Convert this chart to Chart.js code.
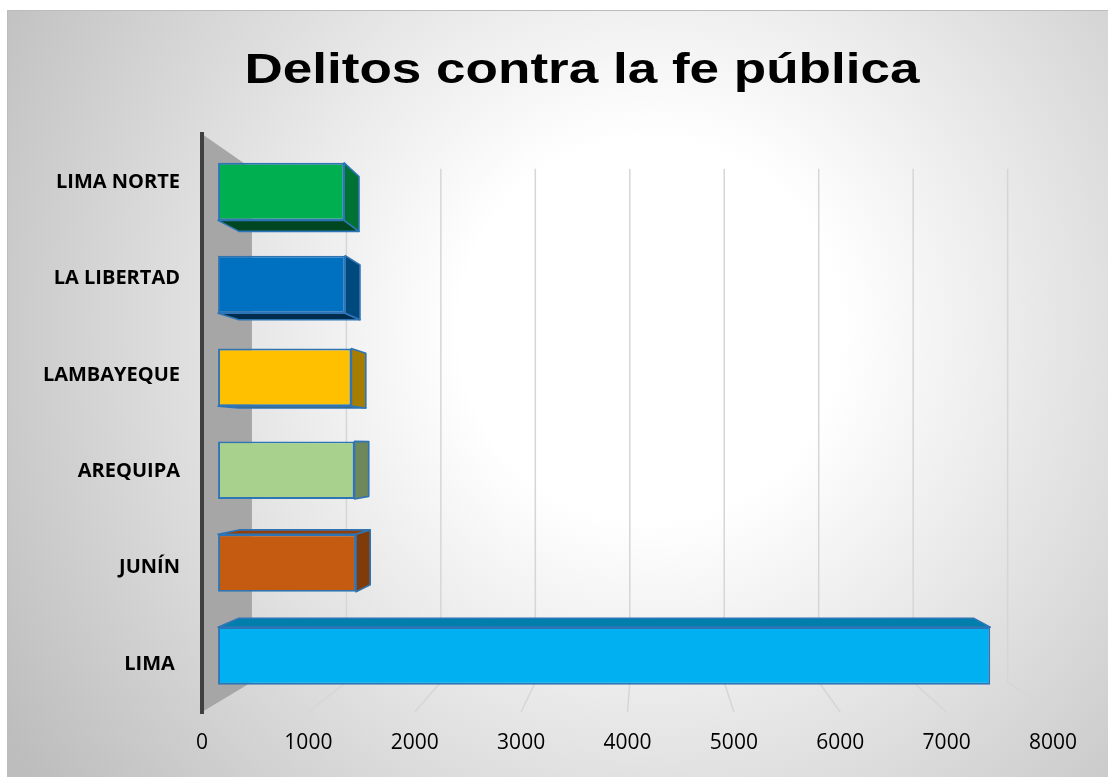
<!DOCTYPE html>
<html lang="es">
<head>
<meta charset="utf-8">
<title>Delitos contra la fe pública</title>
<script src="https://cdn.jsdelivr.net/npm/chart.js@4.4.1/dist/chart.umd.min.js"></script>
<style>
    html, body { margin: 0; padding: 0; background: #fff; }
    canvas { display: block; }
</style>
</head>
<body>
<canvas id="delitosChart" width="1108" height="777"></canvas>
<script>
const regiones = ['LIMA NORTE', 'LA LIBERTAD', 'LAMBAYEQUE', 'AREQUIPA', 'JUNÍN', 'LIMA '];
const casos = [1230, 1240, 1300, 1330, 1345, 7530];
const colores = ['#00B050', '#0070C0', '#FFC000', '#A9D18E', '#C55A11', '#00B0F0'];
const marcasX = [0, 1000, 2000, 3000, 4000, 5000, 6000, 7000, 8000];
const titulo = 'Delitos contra la fe pública';

// Profundidades de la perspectiva (1 = plano frontal de los ejes)
const PROF_PARED = 0.888;
const PROF_FRENTE = 0.964;
const PROF_FONDO = 0.917;
const BORDE = '#2E75B6';

// Punto de fuga, relativo al área del gráfico
function puntoFuga(chart) {
    const a = chart.chartArea;
    return {
        x: a.left + 0.524 * (a.right - a.left),
        y: a.top + 0.5375 * (a.bottom - a.top)
    };
}

function proyectar(v, x, y, s) {
    return [v.x + s * (x - v.x), v.y + s * (y - v.y)];
}

function oscurecer(hex, f) {
    const n = parseInt(hex.slice(1), 16);
    const r = Math.round(((n >> 16) & 255) * f);
    const g = Math.round(((n >> 8) & 255) * f);
    const b = Math.round((n & 255) * f);
    return `rgb(${r}, ${g}, ${b})`;
}

function cara(ctx, pts, relleno) {
    ctx.beginPath();
    ctx.moveTo(pts[0][0], pts[0][1]);
    for (let i = 1; i < pts.length; i++) ctx.lineTo(pts[i][0], pts[i][1]);
    ctx.closePath();
    ctx.fillStyle = relleno;
    ctx.fill();
    ctx.lineWidth = 1.6;
    ctx.lineJoin = 'round';
    ctx.strokeStyle = BORDE;
    ctx.stroke();
}

const escena3d = {
    id: 'escena3d',
    beforeDraw(chart) {
        const ctx = chart.ctx;
        ctx.save();
        ctx.fillStyle = '#ffffff';
        ctx.fillRect(0, 0, chart.width, chart.height);
        // fondo con degradado radial
        const grad = ctx.createRadialGradient(650, 330, 0, 650, 330, 760);
        grad.addColorStop(0, '#ffffff');
        grad.addColorStop(0.25, '#ffffff');
        grad.addColorStop(1, '#bdbdbd');
        ctx.fillStyle = grad;
        ctx.fillRect(7, 10, chart.width, chart.height);
        ctx.strokeStyle = '#bcbcbc';
        ctx.lineWidth = 1;
        ctx.strokeRect(7.5, 10.5, chart.width, chart.height);
        ctx.restore();
    },
    beforeDatasetsDraw(chart) {
        const ctx = chart.ctx;
        const a = chart.chartArea;
        const v = puntoFuga(chart);
        const xs = chart.scales.x;

        ctx.save();
        // líneas de división: pared del fondo y suelo
        ctx.strokeStyle = '#d6d6d6';
        ctx.lineWidth = 1.5;
        xs.ticks.forEach(t => {
            if (t.value === 0) return;
            const x = xs.getPixelForValue(t.value);
            const arriba = proyectar(v, x, a.top, PROF_PARED);
            const abajo = proyectar(v, x, a.bottom, PROF_PARED);
            ctx.beginPath();
            ctx.moveTo(arriba[0], arriba[1]);
            ctx.lineTo(abajo[0], abajo[1]);
            ctx.lineTo(x, a.bottom);
            ctx.stroke();
        });

        // pared lateral izquierda
        const p1 = proyectar(v, a.left, a.top, PROF_PARED);
        const p2 = proyectar(v, a.left, a.bottom, PROF_PARED);
        ctx.beginPath();
        ctx.moveTo(a.left, a.top);
        ctx.lineTo(p1[0], p1[1]);
        ctx.lineTo(p2[0], p2[1]);
        ctx.lineTo(a.left, a.bottom);
        ctx.closePath();
        ctx.fillStyle = '#a6a6a6';
        ctx.fill();
        ctx.strokeStyle = '#404040';
        ctx.lineWidth = 4;
        ctx.beginPath();
        ctx.moveTo(a.left, a.top - 2);
        ctx.lineTo(a.left, a.bottom + 2);
        ctx.stroke();

        // caras ocultas de cada barra: superior/inferior y lateral derecha
        const meta = chart.getDatasetMeta(0);
        meta.data.forEach((barra, i) => {
            const { x, y, base, height } = barra.getProps(['x', 'y', 'base', 'height'], true);
            const y0 = y - height / 2;
            const y1 = y + height / 2;
            const c = colores[i];
            if (y0 > v.y) {
                cara(ctx, [
                    proyectar(v, base, y0, PROF_FRENTE), proyectar(v, x, y0, PROF_FRENTE),
                    proyectar(v, x, y0, PROF_FONDO), proyectar(v, base, y0, PROF_FONDO)
                ], oscurecer(c, 0.72));
            }
            if (y1 < v.y) {
                cara(ctx, [
                    proyectar(v, base, y1, PROF_FRENTE), proyectar(v, x, y1, PROF_FRENTE),
                    proyectar(v, x, y1, PROF_FONDO), proyectar(v, base, y1, PROF_FONDO)
                ], oscurecer(c, 0.4));
            }
            if (x < v.x) {
                cara(ctx, [
                    proyectar(v, x, y0, PROF_FRENTE), proyectar(v, x, y1, PROF_FRENTE),
                    proyectar(v, x, y1, PROF_FONDO), proyectar(v, x, y0, PROF_FONDO)
                ], oscurecer(c, 0.65));
            }
        });
        ctx.restore();

        // la cara frontal la dibuja Chart.js, llevada al plano de las barras
        ctx.save();
        ctx.translate(v.x, v.y);
        ctx.scale(PROF_FRENTE, PROF_FRENTE);
        ctx.translate(-v.x, -v.y);
    },
    afterDatasetsDraw(chart) {
        chart.ctx.restore();
    },
    afterDraw(chart) {
        const ctx = chart.ctx;
        ctx.save();
        ctx.font = 'bold 43px "Liberation Sans", Arial, sans-serif';
        const ancho = ctx.measureText(titulo).width;
        ctx.translate(582, 83);
        ctx.scale(675 / ancho, 1);
        ctx.textAlign = 'center';
        ctx.textBaseline = 'alphabetic';
        ctx.fillStyle = '#000000';
        ctx.fillText(titulo, 0, 0);
        ctx.restore();
    }
};

new Chart(document.getElementById('delitosChart'), {
    type: 'bar',
    data: {
        labels: regiones,
        datasets: [{
            data: casos,
            backgroundColor: colores,
            borderColor: BORDE,
            borderWidth: 2,
            borderSkipped: false,
            barPercentage: 0.62,
            categoryPercentage: 1,
            clip: false
        }]
    },
    options: {
        indexAxis: 'y',
        responsive: false,
        animation: false,
        layout: {
            padding: { left: 7, top: 134, right: 55, bottom: 0 }
        },
        plugins: {
            legend: { display: false },
            tooltip: { enabled: false },
            title: { display: false }
        },
        scales: {
            x: {
                min: marcasX[0],
                max: marcasX[marcasX.length - 1],
                grid: { display: false, drawTicks: false },
                border: { display: false },
                ticks: {
                    stepSize: marcasX[1] - marcasX[0],
                    padding: 18,
                    color: '#000000',
                    font: { family: '"Open Sans", sans-serif', size: 21 },
                    callback: valor => String(valor)
                },
                afterFit(scale) { scale.height = 65; }
            },
            y: {
                grid: { display: false, drawTicks: false },
                border: { display: false },
                ticks: {
                    padding: 22,
                    color: '#000000',
                    font: { family: '"Open Sans", sans-serif', size: 20, weight: 'bold' }
                },
                afterFit(scale) { scale.width = 195; }
            }
        }
    },
    plugins: [escena3d]
});
</script>
</body>
</html>
